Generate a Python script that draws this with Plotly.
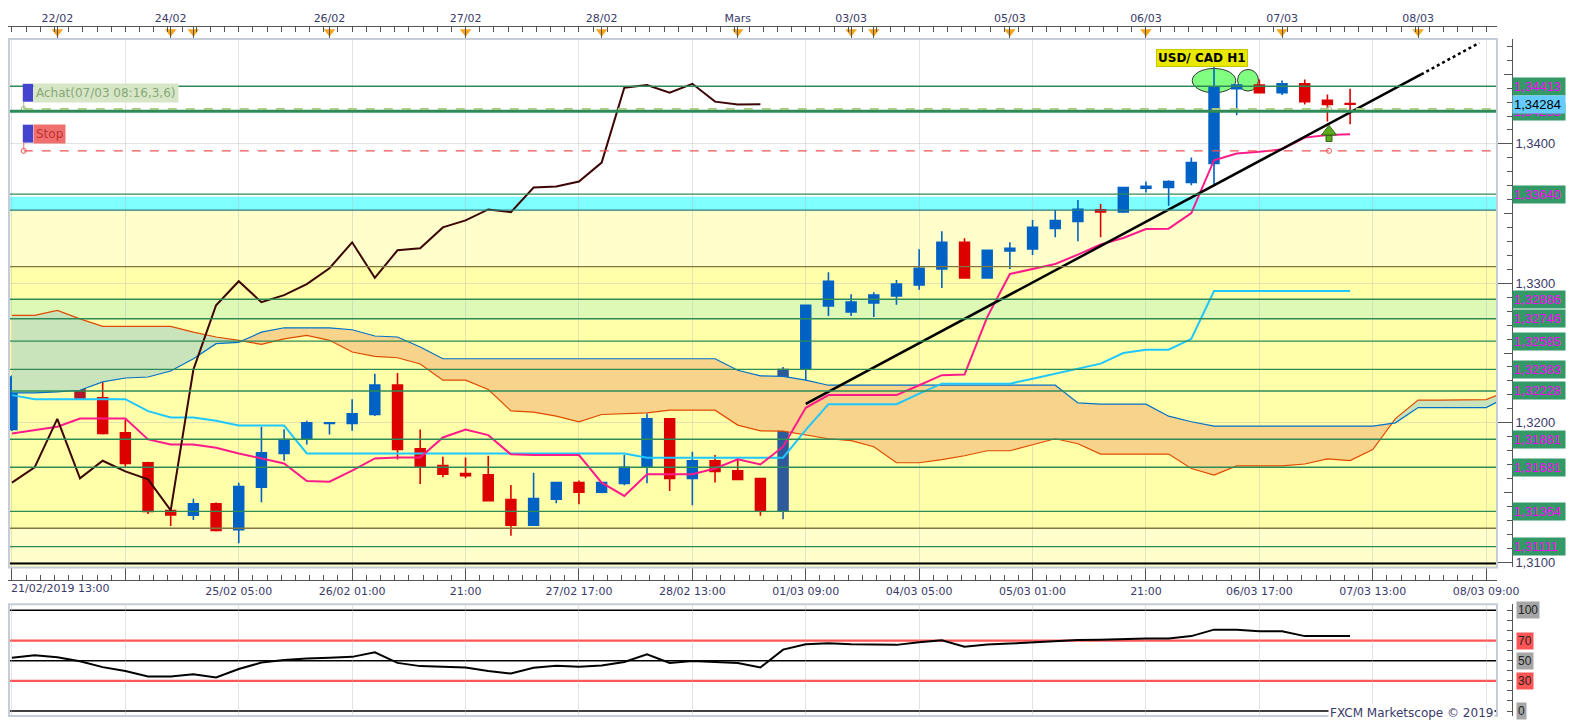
import plotly.graph_objects as go

W, H = 1583, 720
PLOT_RIGHT = 1510
AXIS_X = 1525
FONT = "DejaVu Sans"
LABEL_FONT = "Liberation Sans"
TXT = "#3A3A6A"
GRID = "rgba(185,185,185,0.4)"


def px_x(x):
    return x / W


def px_y(y):
    return 1 - y / H


# ---------------- data (USD/CAD, 4-hour bars, index 0 = 21/02/2019 13:00) ----------------
bars = list(range(60))
opens = [1.31951, 1.32321, 1.32393, 1.32336, 1.32178, 1.31928, 1.31713, 1.31370, 1.31336, 1.31418,
         1.31232, 1.31537, 1.31780, 1.31885, 1.31994, 1.31994, 1.32059, 1.32271, 1.31813, 1.31692,
         1.31635, 1.31627, 1.31449, 1.31265, 1.31451, 1.31570, 1.31501, 1.31565, 1.31685, 1.32028,
         1.31601, 1.31727, 1.31656, 1.31599, 1.31372, 1.32388, 1.32838, 1.32795, 1.32860, 1.32910,
         1.32989, 1.33103, 1.33294, 1.33039, 1.33232, 1.33246, 1.33394, 1.33444, 1.33528, 1.33511,
         1.33682, 1.33687, 1.33723, 1.33859, 1.34396, 1.34422, 1.34367, 1.34431, 1.34312, 1.34290]
highs = [1.32341, 1.32400, 1.32419, 1.32348, 1.32293, 1.32019, 1.31720, 1.31377, 1.31454, 1.31427,
         1.31570, 1.31971, 1.31954, 1.32014, 1.32004, 1.32169, 1.32352, 1.32357, 1.31951, 1.31756,
         1.31751, 1.31763, 1.31554, 1.31642, 1.31575, 1.31585, 1.31575, 1.31768, 1.32066, 1.32033,
         1.31792, 1.31768, 1.31732, 1.31604, 1.32400, 1.32848, 1.33079, 1.32922, 1.32936, 1.33024,
         1.33244, 1.33373, 1.33323, 1.33240, 1.33294, 1.33454, 1.33525, 1.33597, 1.33568, 1.33690,
         1.33730, 1.33740, 1.33902, 1.34565, 1.34425, 1.34462, 1.34455, 1.34462, 1.34355, 1.34396]
lows = [1.31940, 1.32269, 1.32316, 1.32171, 1.31916, 1.31685, 1.31346, 1.31260, 1.31303, 1.31220,
        1.31136, 1.31429, 1.31727, 1.31844, 1.31916, 1.31942, 1.32049, 1.31737, 1.31561, 1.31608,
        1.31601, 1.31438, 1.31189, 1.31260, 1.31422, 1.31415, 1.31494, 1.31551, 1.31565, 1.31511,
        1.31408, 1.31572, 1.31590, 1.31332, 1.31308, 1.32114, 1.32765, 1.32765, 1.32758, 1.32846,
        1.32953, 1.32967, 1.33035, 1.33035, 1.33103, 1.33203, 1.33330, 1.33301, 1.33330, 1.33504,
        1.33652, 1.33557, 1.33704, 1.33711, 1.34205, 1.34362, 1.34351, 1.34283, 1.34160, 1.34140]
closes = [1.32328, 1.32393, 1.32333, 1.32173, 1.31923, 1.31708, 1.31363, 1.31339, 1.31418, 1.31227,
          1.31542, 1.31785, 1.31880, 1.31999, 1.32000, 1.32064, 1.32271, 1.31808, 1.31685, 1.31630,
          1.31620, 1.31441, 1.31265, 1.31456, 1.31570, 1.31501, 1.31570, 1.31680, 1.32028, 1.31601,
          1.31727, 1.31651, 1.31594, 1.31372, 1.32381, 1.32843, 1.33015, 1.32865, 1.32915, 1.32994,
          1.33108, 1.33294, 1.33039, 1.33237, 1.33251, 1.33401, 1.33451, 1.33530, 1.33511, 1.33687,
          1.33695, 1.33730, 1.33866, 1.34403, 1.34422, 1.34367, 1.34431, 1.34303, 1.34283, 1.34284]
dark_bars = [2, 3, 34]

tenkan = [1.31923, 1.31947, 1.31971, 1.32030, 1.32030, 1.32030, 1.31880, 1.31844, 1.31844, 1.31821,
          1.31780, 1.31744, 1.31708, 1.31582, 1.31577, 1.31656, 1.31744, 1.31751, 1.31751, 1.31894,
          1.31951, 1.31911, 1.31773, 1.31768, 1.31768, 1.31768, 1.31570, 1.31475, 1.31630, 1.31630,
          1.31630, 1.31672, 1.31737, 1.31701, 1.31828, 1.32107, 1.32198, 1.32198, 1.32198, 1.32198,
          1.32269, 1.32341, 1.32345, 1.32758, 1.33067, 1.33103, 1.33139, 1.33206, 1.33278, 1.33325,
          1.33389, 1.33392, 1.33504, 1.33883, 1.33931, 1.33943, 1.33961, 1.34045, 1.34064, 1.34069]
kijun = [1.32198, 1.32169, 1.32169, 1.32169, 1.32169, 1.32169, 1.32083, 1.32037, 1.32037, 1.32014,
         1.31980, 1.31980, 1.31980, 1.31780, 1.31780, 1.31780, 1.31780, 1.31780, 1.31780, 1.31780,
         1.31780, 1.31780, 1.31780, 1.31780, 1.31780, 1.31780, 1.31780, 1.31780, 1.31749, 1.31749,
         1.31749, 1.31749, 1.31749, 1.31749, 1.31749, 1.31949, 1.32133, 1.32133, 1.32133, 1.32133,
         1.32209, 1.32280, 1.32280, 1.32280, 1.32280, 1.32316, 1.32352, 1.32388, 1.32424, 1.32500,
         1.32524, 1.32524, 1.32602, 1.32944, 1.32944, 1.32944, 1.32944, 1.32944, 1.32944, 1.32944]
cloud_bars = list(range(67))
span_a = [1.32770, 1.32770, 1.32806, 1.32745, 1.32691, 1.32691, 1.32691, 1.32691, 1.32650, 1.32615,
          1.32591, 1.32562, 1.32602, 1.32627, 1.32591, 1.32507, 1.32476, 1.32466, 1.32421, 1.32305,
          1.32305, 1.32238, 1.32085, 1.32076, 1.32047, 1.32007, 1.32059, 1.32064, 1.32071, 1.32090,
          1.32090, 1.32090, 1.31983, 1.31942, 1.31940, 1.31911, 1.31885, 1.31871, 1.31828, 1.31713,
          1.31713, 1.31735, 1.31763, 1.31799, 1.31799, 1.31842, 1.31885, 1.31849, 1.31775, 1.31775,
          1.31775, 1.31775, 1.31672, 1.31625, 1.31690, 1.31690, 1.31690, 1.31704, 1.31740, 1.31728,
          1.31808, 1.32030, 1.32162, 1.32162, 1.32162, 1.32166, 1.32232]
span_b = [1.32214, 1.32214, 1.32221, 1.32233, 1.32293, 1.32321, 1.32328, 1.32371, 1.32459, 1.32567,
          1.32577, 1.32650, 1.32681, 1.32681, 1.32681, 1.32667, 1.32622, 1.32615, 1.32543, 1.32459,
          1.32459, 1.32459, 1.32459, 1.32459, 1.32459, 1.32459, 1.32459, 1.32459, 1.32459, 1.32459,
          1.32459, 1.32459, 1.32376, 1.32336, 1.32333, 1.32305, 1.32269, 1.32269, 1.32269, 1.32269,
          1.32269, 1.32269, 1.32269, 1.32269, 1.32269, 1.32269, 1.32269, 1.32142, 1.32133, 1.32133,
          1.32133, 1.32047, 1.32007, 1.31976, 1.31976, 1.31976, 1.31976, 1.31976, 1.31976, 1.31976,
          1.31976, 1.31999, 1.32109, 1.32109, 1.32109, 1.32109, 1.32192]
chikou_shift = 26

rsi = [52.9, 55.4, 53.5, 49.4, 43.6, 39.7, 34.3, 34.3, 36.5, 33.3,
       41.7, 48.1, 50.6, 52.2, 52.9, 53.8, 58.3, 47.8, 44.6, 43.6,
       43.3, 39.7, 37.2, 42.9, 44.9, 43.9, 45.2, 48.7, 56.4, 47.8,
       49.7, 48.7, 47.8, 43.3, 61.0, 66.3, 67.3, 66.3, 65.7, 65.7,
       68.3, 70.2, 63.8, 66.0, 67.0, 68.3, 69.9, 70.5, 70.8, 71.8,
       72.1, 72.1, 74.4, 80.8, 80.8, 79.2, 79.2, 74.4, 74.4, 74.4]
rsi_levels = [100, 70, 50, 30, 0]

trend_bars = [35, 62.13]
trend_prices = [1.32135, 1.34498]
trend_ext_bars = [62.13, 64.7]
trend_ext_prices = [1.34498, 1.34725]

levels = [1.34413, 1.34235, 1.33640, 1.32886, 1.32746, 1.32585, 1.32383, 1.32228,
          1.31881, 1.31681, 1.31364, 1.31111]
olive_levels = [1.33120, 1.31243]
cyan_band = [1.33525, 1.33620]
green_band = [1.32746, 1.32886]
base_line = 1.30991
entry_price = 1.34250
stop_price = 1.33950
current_price = 1.34284
signal_bar = 58.07
signal_price = 1.34067
ellipse_bars = [(52.04, 53.96), (54.04, 54.96)]
ellipse_prices = [(1.34367, 1.34541), (1.34379, 1.34534)]
title_bar, title_price = 52.46, 1.34617

bottom_ticks = [0, 5, 10, 15, 20, 25, 30, 35, 40, 45, 50, 55, 60, 65]
bottom_labels = ['', '', '25/02 05:00', '26/02 01:00', '21:00', '27/02 17:00', '28/02 13:00',
                 '01/03 09:00', '04/03 05:00', '05/03 01:00', '21:00', '06/03 17:00',
                 '07/03 13:00', '08/03 09:00']
first_label = '21/02/2019 13:00'
day_ticks = [2, 7, 8, 14, 20, 26, 32, 37, 38, 44, 50, 56, 62]
day_labels = ['22/02', '24/02', '', '26/02', '27/02', '28/02', 'Mars', '03/03', '', '05/03',
              '06/03', '07/03', '08/03']

X_RANGE = [-0.174, 65.478]
Y_RANGE = [1.30962, 1.34753]
RSI_RANGE = [-4.95, 105.94]
MAIN_DOM = [px_y(561), px_y(31)]
RSI_DOM = [px_y(710), px_y(598)]
TOP_DOM = [px_y(31), px_y(19)]
X_DOM = [0, PLOT_RIGHT / W]


def fmt(v, d=5):
    return f"{v:.{d}f}".replace('.', ',')


# ---------------- cloud polygons ----------------
def cloud_regions(xs, a, b):
    pts = []
    for i in range(len(xs)):
        if i > 0:
            d0 = a[i - 1] - b[i - 1]
            d1 = a[i] - b[i]
            if d0 * d1 < 0:
                t = d0 / (d0 - d1)
                xc = xs[i - 1] + t * (xs[i] - xs[i - 1])
                yc = a[i - 1] + t * (a[i] - a[i - 1])
                pts.append((xc, yc, yc, True))
        pts.append((xs[i], a[i], b[i], False))
    runs, cur = [], []
    for p in pts:
        cur.append(p)
        if p[3]:
            runs.append(cur)
            cur = [p]
    runs.append(cur)
    g = ([], [])
    o = ([], [])
    for run in runs:
        diffs = [p[1] - p[2] for p in run if not p[3]]
        if not diffs:
            continue
        rx = [p[0] for p in run]
        ra = [p[1] for p in run]
        rb = [p[2] for p in run]
        tgt = g if diffs[0] >= 0 else o
        tgt[0].extend(rx + rx[::-1] + [None])
        tgt[1].extend(ra + rb[::-1] + [None])
    return g, o


fig = go.Figure()

green, orange = cloud_regions(cloud_bars, span_a, span_b)
fig.add_trace(go.Scatter(x=green[0], y=green[1], fill='toself', fillcolor='#C9E3BA',
                         line=dict(width=0), mode='lines', hoverinfo='skip'))
fig.add_trace(go.Scatter(x=orange[0], y=orange[1], fill='toself', fillcolor='#F7D38C',
                         line=dict(width=0), mode='lines', hoverinfo='skip'))
fig.add_trace(go.Scatter(x=cloud_bars, y=span_a, mode='lines', line=dict(color='#E04A00', width=1.2)))
fig.add_trace(go.Scatter(x=cloud_bars, y=span_b, mode='lines', line=dict(color='#0070C8', width=1.2)))

# candles
norm = [i for i in bars if i not in dark_bars]
fig.add_trace(go.Candlestick(
    x=norm, open=[opens[i] for i in norm], high=[highs[i] for i in norm],
    low=[lows[i] for i in norm], close=[closes[i] for i in norm],
    increasing=dict(line=dict(color='#0062C4', width=1.6), fillcolor='#0062C4'),
    decreasing=dict(line=dict(color='#DD0000', width=1.6), fillcolor='#DD0000'),
    whiskerwidth=0))
fig.add_trace(go.Candlestick(
    x=dark_bars, open=[opens[i] for i in dark_bars], high=[highs[i] for i in dark_bars],
    low=[lows[i] for i in dark_bars], close=[closes[i] for i in dark_bars],
    increasing=dict(line=dict(color='#2D5A9B', width=1.6), fillcolor='#2D5A9B'),
    decreasing=dict(line=dict(color='#B0182A', width=1.6), fillcolor='#B0182A'),
    whiskerwidth=0))

fig.add_trace(go.Scatter(x=bars, y=kijun, mode='lines', line=dict(color='#1EC8FF', width=2)))
fig.add_trace(go.Scatter(x=bars, y=tenkan, mode='lines', line=dict(color='#FF1A8C', width=2)))
chikou_x = bars[:len(bars) - chikou_shift]
chikou_y = closes[chikou_shift:]
fig.add_trace(go.Scatter(x=chikou_x, y=chikou_y, mode='lines', line=dict(color='#3D0505', width=2)))

fig.add_trace(go.Scatter(x=trend_bars, y=trend_prices, mode='lines', line=dict(color='black', width=2.5)))
fig.add_trace(go.Scatter(x=trend_ext_bars, y=trend_ext_prices, mode='lines',
                         line=dict(color='black', width=2.5, dash='dot')))

# signal arrow and order markers
fig.add_trace(go.Scatter(x=[signal_bar], y=[signal_price + 0.0002], mode='markers',
                         marker=dict(symbol='triangle-up', size=13, color='#5DA821',
                                     line=dict(color='#2F6A10', width=1))))
fig.add_trace(go.Scatter(x=[signal_bar], y=[signal_price - 0.00028], mode='markers',
                         marker=dict(symbol='square', size=6, color='#5DA821',
                                     line=dict(color='#2F6A10', width=1))))
fig.add_trace(go.Scatter(x=[0.52, signal_bar], y=[entry_price, entry_price], mode='markers',
                         marker=dict(symbol='circle-open', size=5, color='#99BB77')))
fig.add_trace(go.Scatter(x=[0.52, signal_bar], y=[stop_price, stop_price], mode='markers',
                         marker=dict(symbol='circle-open', size=5, color='#EE5555')))

# RSI
fig.add_trace(go.Scatter(x=bars, y=rsi, mode='lines', line=dict(color='black', width=2),
                         xaxis='x2', yaxis='y2'))

# top date bar markers
fig.add_trace(go.Scatter(x=day_ticks, y=[0.6] * len(day_ticks), mode='markers',
                         marker=dict(symbol='triangle-down', size=10, color='#F7A41C'),
                         xaxis='x3', yaxis='y3'))
# helper for mid-tick overlay axis
fig.add_trace(go.Scatter(x=[None], y=[None], yaxis='y4', hoverinfo='skip'))

# ---------------- shapes ----------------
shapes = []


def band(y0, y1, color):
    shapes.append(dict(type='rect', xref='paper', x0=X_DOM[0], x1=X_DOM[1], yref='y', y0=y0, y1=y1,
                       fillcolor=color, line=dict(width=0), layer='below'))


def hline(y, color, width=1.4, dash='solid', layer='above', x0=X_DOM[0]):
    shapes.append(dict(type='line', xref='paper', x0=x0, x1=X_DOM[1], yref='y', y0=y, y1=y,
                       line=dict(color=color, width=width, dash=dash), layer=layer))


band(cyan_band[0], cyan_band[1], '#80FFFF')
band(olive_levels[0], cyan_band[0], '#FFFFCC')
band(olive_levels[1], olive_levels[0], '#FFFFAA')
band(green_band[0], green_band[1], '#DEF8B6')
band(Y_RANGE[0], olive_levels[1], '#FFFFCC')

for (xa, xb), (ya, yb) in zip(ellipse_bars, ellipse_prices):
    shapes.append(dict(type='circle', xref='x', yref='y', x0=xa, x1=xb, y0=ya, y1=yb,
                       fillcolor='#80FF80', line=dict(color='#333333', width=1), layer='below'))

for lv in levels:
    hline(lv, '#2E8B57', 3 if lv == 1.34235 else 1.4)
for lv in olive_levels:
    hline(lv, '#807840', 1.4)
hline(cyan_band[0], '#2A7F7F', 1.4)
hline(base_line, '#000000', 2)
hline(entry_price, '#A8CC88', 2, 'dash', x0=px_x(16))
hline(stop_price, '#EE5555', 1.2, 'dash', x0=px_x(16))

# RSI guides
for lv, col, wd in [(100, 'black', 1.5), (70, '#FF5555', 2.2), (50, 'black', 1.5),
                    (30, '#FF5555', 2.2), (0, 'black', 1.5)]:
    shapes.append(dict(type='line', xref='paper', x0=X_DOM[0], x1=X_DOM[1], yref='y2', y0=lv, y1=lv,
                       line=dict(color=col, width=wd), layer='below'))

# order label squares and stems
for ytop, ybot in [(76, 94), (117, 135)]:
    shapes.append(dict(type='rect', xref='paper', yref='paper', x0=px_x(15), x1=px_x(25.5),
                       y0=px_y(ybot), y1=px_y(ytop), fillcolor='#4444CC', line=dict(width=0)))
shapes.append(dict(type='line', xref='paper', yref='paper', x0=px_x(16), x1=px_x(16),
                   y0=px_y(94), y1=px_y(101), line=dict(color='#99BB77', width=1)))
shapes.append(dict(type='line', xref='paper', yref='paper', x0=px_x(16), x1=px_x(16),
                   y0=px_y(135), y1=px_y(142), line=dict(color='#EE6666', width=1)))

# panel borders
for yt, yb in [(31, 561), (598, 710)]:
    shapes.append(dict(type='rect', xref='paper', yref='paper', x0=px_x(1), x1=px_x(PLOT_RIGHT),
                       y0=px_y(yb), y1=px_y(yt), line=dict(color='#C5CDD8', width=2),
                       fillcolor='rgba(0,0,0,0)', layer='above'))

# ---------------- annotations ----------------
ann = []
for lv in levels:
    ann.append(dict(xref='paper', yref='y', x=px_x(AXIS_X), y=lv, xanchor='left', yanchor='middle',
                    text=fmt(lv), showarrow=False, bgcolor='#339966', borderpad=1, width=50,
                    align='left', font=dict(family=LABEL_FONT, size=13, color='#FF00FF')))
ann.append(dict(xref='paper', yref='y', x=px_x(AXIS_X), y=current_price, xanchor='left',
                yanchor='middle', text=fmt(current_price), showarrow=False, bgcolor='#66CCFF',
                borderpad=1, width=50, align='left',
                font=dict(family=LABEL_FONT, size=13, color='black')))
for lv in rsi_levels:
    ann.append(dict(xref='paper', yref='y2', x=px_x(AXIS_X + 4), y=lv, xanchor='left',
                    yanchor='middle', text=str(lv), showarrow=False,
                    bgcolor='#FF5555' if lv in (70, 30) else '#A6A6A6', borderpad=1,
                    font=dict(family=LABEL_FONT, size=12, color='#222222')))
ann.append(dict(xref='x', yref='y', x=title_bar, y=title_price, text='<b>USD/ CAD H1</b>',
                showarrow=False, bgcolor='#E8E800', bordercolor='#C8C800', borderwidth=1,
                borderpad=1, font=dict(family=FONT, size=12, color='black')))
ann.append(dict(xref='paper', yref='paper', x=px_x(25.5), y=px_y(85), xanchor='left',
                yanchor='middle', text='Achat(07/03 08:16,3,6)', showarrow=False,
                bgcolor='#D6E6C6', borderpad=2, font=dict(family=FONT, size=12, color='#88A878')))
ann.append(dict(xref='paper', yref='paper', x=px_x(25.5), y=px_y(126), xanchor='left',
                yanchor='middle', text='Stop', showarrow=False,
                bgcolor='#F07070', borderpad=2, font=dict(family=FONT, size=12, color='#C03030')))
ann.append(dict(xref='paper', yref='paper', x=px_x(1), y=px_y(582), xanchor='left',
                yanchor='middle', text=first_label, showarrow=False,
                font=dict(family=FONT, size=11, color=TXT)))
ann.append(dict(xref='paper', yref='paper', x=px_x(1508), y=px_y(707), xanchor='right',
                yanchor='middle', text='FXCM Marketscope © 2019', showarrow=False,
                bgcolor='white', font=dict(family=FONT, size=12, color=TXT)))

axis_common = dict(linecolor='#555555', tickcolor='#555555', zeroline=False)

fig.update_layout(
    width=W, height=H, margin=dict(l=0, r=0, t=0, b=0),
    paper_bgcolor='white', plot_bgcolor='white', showlegend=False,
    separators=', ', boxgap=0.38, hovermode=False,
    font=dict(family=FONT, size=11, color=TXT),
    xaxis=dict(domain=X_DOM, range=X_RANGE, anchor='free', position=px_y(574), side='bottom',
               tickmode='array', tickvals=bottom_ticks, ticktext=bottom_labels,
               ticks='inside', ticklen=12, showline=True, showgrid=True, gridcolor=GRID,
               minor=dict(tick0=0, dtick=0.625, ticklen=5, ticks='inside', tickcolor='#555555',
                          showgrid=False),
               rangeslider=dict(visible=False), tickfont=dict(family=FONT, size=11, color=TXT),
               **axis_common),
    yaxis=dict(domain=MAIN_DOM, range=Y_RANGE, anchor='free', position=px_x(AXIS_X), side='right',
               dtick=0.01, tick0=0, tickformat='.4f', ticks='inside', ticklen=14, showline=True,
               showgrid=True, gridcolor=GRID,
               minor=dict(dtick=0.001, ticklen=5, ticks='inside', tickcolor='#555555', showgrid=False),
               tickfont=dict(family=LABEL_FONT, size=13, color=TXT), **axis_common),
    yaxis4=dict(overlaying='y', range=Y_RANGE, anchor='free', position=px_x(AXIS_X), side='right',
                tickmode='array', tickvals=[1.315, 1.325, 1.335, 1.345], ticks='inside', ticklen=8,
                showticklabels=False, showgrid=False, showline=False, **axis_common),
    xaxis2=dict(domain=X_DOM, range=X_RANGE, anchor='y2', matches='x', tickmode='array',
                tickvals=bottom_ticks, showticklabels=False, ticks='', showgrid=True,
                gridcolor=GRID, showline=False, zeroline=False),
    yaxis2=dict(domain=RSI_DOM, range=RSI_RANGE, anchor='free', position=px_x(AXIS_X), side='right',
                tickmode='array', tickvals=list(range(0, 101, 10)), ticks='inside', ticklen=5,
                showticklabels=False, showgrid=False, showline=True, **axis_common),
    xaxis3=dict(domain=X_DOM, range=X_RANGE, anchor='y3', matches='x', side='top',
                tickmode='array', tickvals=day_ticks, ticktext=day_labels, ticks='inside',
                ticklen=12, showline=True, showgrid=False,
                minor=dict(tick0=0, dtick=0.625, ticklen=5, ticks='inside', tickcolor='#555555',
                           showgrid=False),
                tickfont=dict(family=FONT, size=11, color=TXT), **axis_common),
    yaxis3=dict(domain=TOP_DOM, range=[0, 1], visible=False, fixedrange=True),
    shapes=shapes, annotations=ann,
)

fig.write_html("out.html")
